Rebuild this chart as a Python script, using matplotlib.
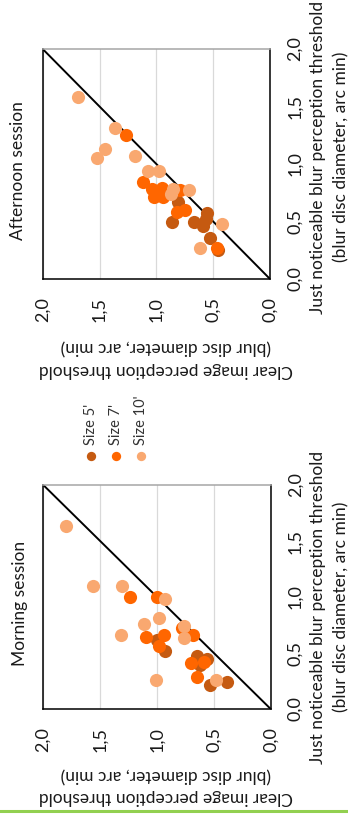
import matplotlib
matplotlib.use("Agg")
from matplotlib import pyplot as plt
from matplotlib.lines import Line2D

# ----- DATA (clear image threshold, just noticeable threshold), arc min -----
ticks = [0.0, 0.5, 1.0, 1.5, 2.0]
tick_labels = ["0,0", "0,5", "1,0", "1,5", "2,0"]
series_names = ["Size 5'", "Size 7'", "Size 10'"]

# afternoon session
aft_clear_5 = [0.81, 0.86, 0.67, 0.55, 0.56, 0.59, 0.53, 0.46]
aft_jnd_5 = [0.67, 0.50, 0.50, 0.57, 0.52, 0.46, 0.36, 0.25]
aft_clear_7 = [1.27, 1.12, 1.04, 0.95, 1.02, 0.94, 0.79, 0.82, 0.75, 0.47]
aft_jnd_7 = [1.25, 0.84, 0.78, 0.79, 0.71, 0.71, 0.77, 0.58, 0.60, 0.27]
aft_clear_10 = [1.69, 1.36, 1.45, 1.52, 1.19, 1.07, 0.98, 0.85, 0.87, 0.71, 0.42, 0.62]
aft_jnd_10 = [1.58, 1.31, 1.13, 1.05, 1.07, 0.94, 0.94, 0.78, 0.74, 0.77, 0.48, 0.27]

# morning session
mor_clear_5 = [1.00, 0.93, 0.65, 0.56, 0.62, 0.53, 0.38]
mor_jnd_5 = [0.62, 0.52, 0.47, 0.45, 0.39, 0.21, 0.24]
mor_clear_7 = [1.24, 1.00, 0.78, 0.68, 1.10, 0.94, 0.98, 0.70, 0.59, 0.65]
mor_jnd_7 = [1.00, 1.00, 0.72, 0.66, 0.64, 0.66, 0.56, 0.41, 0.42, 0.29]
mor_clear_10 = [1.80, 1.56, 1.31, 0.93, 1.11, 0.98, 1.32, 0.76, 0.76, 1.01, 0.48]
mor_jnd_10 = [1.63, 1.10, 1.10, 0.98, 0.76, 0.81, 0.66, 0.74, 0.63, 0.26, 0.26]

# ----- STYLE -----
W, H = 348, 816
colors = ["#C55A11", "#FF6600", "#F9A870"]
textColor = "#1a1a1a"
plt.rcParams["font.family"] = ["Lato", "DejaVu Sans"]
fs = 12.5
fsTick = 13


def rect(l, t, r, b):
    return [l / W, 1 - b / H, (r - l) / W, (b - t) / H]


def ftext(x, y, s, **kw):
    fig.text(x / W, 1 - y / H, s, ha="center", va="center", color=textColor, **kw)


fig = plt.figure(figsize=(W / 100, H / 100), dpi=100)

# the chart is drawn turned a quarter turn: clear threshold runs right->left,
# just noticeable threshold runs bottom->top
panels = [
    dict(box=(42.7, 49, 270, 279), data=[(aft_clear_5, aft_jnd_5), (aft_clear_7, aft_jnd_7), (aft_clear_10, aft_jnd_10)],
         title="Afternoon session", title_xy=(18, 171), jnd_y=157, clear_y=(347, 370)),
    dict(box=(43.3, 485, 270.7, 709), data=[(mor_clear_5, mor_jnd_5), (mor_clear_7, mor_jnd_7), (mor_clear_10, mor_jnd_10)],
         title="Morning session", title_xy=(20, 603), jnd_y=607, clear_y=(775, 797)),
]

for p in panels:
    ax = fig.add_axes(rect(*p["box"]))
    ax.set_xlim(2, 0)
    ax.set_ylim(0, 2)
    ax.plot([0, 2], [0, 2], color="black", lw=1.4, zorder=2)
    for (cx, jy), c in zip(p["data"], colors):
        ax.scatter(cx, jy, s=90, color=c, linewidths=0, zorder=3)

    ax.set_xticks(ticks)
    ax.set_xticklabels(tick_labels, rotation=90, fontsize=fsTick, color=textColor)
    ax.set_yticks(ticks)
    ax.set_yticklabels(tick_labels, rotation=90, fontsize=fsTick, color=textColor, va="center")
    ax.yaxis.tick_right()
    ax.tick_params(axis="x", length=0, pad=13)
    ax.tick_params(axis="y", length=0, pad=12)
    ax.xaxis.grid(True, color="#d9d9d9", lw=0.9)
    ax.set_axisbelow(True)
    for side in ["left", "right", "bottom"]:
        ax.spines[side].set_color("black")
        ax.spines[side].set_linewidth(1.1)
    ax.spines["top"].set_color("#a6a6a6")
    ax.spines["top"].set_linewidth(1.1)

    ftext(p["title_xy"][0], p["title_xy"][1], p["title"], rotation=90, fontsize=fs)
    ftext(318, p["jnd_y"], "Just noticeable blur perception threshold", rotation=90, fontsize=fs)
    ftext(341, p["jnd_y"], "(blur disc diameter, arc min)", rotation=90, fontsize=fs)
    ftext(166, p["clear_y"][0], "(blur disc diameter, arc min)", rotation=180, fontsize=fs)
    ftext(166, p["clear_y"][1], "Clear image perception threshold", rotation=180, fontsize=fs)

# legend, turned like the rest
lax = fig.add_axes(rect(78, 388, 154, 465))
lax.set_xlim(0, 3)
lax.set_ylim(0, 1)
lax.axis("off")
for i, (name, c) in enumerate(zip(series_names, colors)):
    lax.scatter([i + 0.5], [0.12], s=45, color=c, linewidths=0)
    lax.text(i + 0.5, 0.26, name, rotation=90, ha="center", va="bottom", fontsize=10.5, color="#333333")

fig.add_artist(Line2D([0, 1], [1 - 811 / H, 1 - 811 / H], color="#92D050", lw=2.2))

fig.savefig("out.png", dpi=100)
